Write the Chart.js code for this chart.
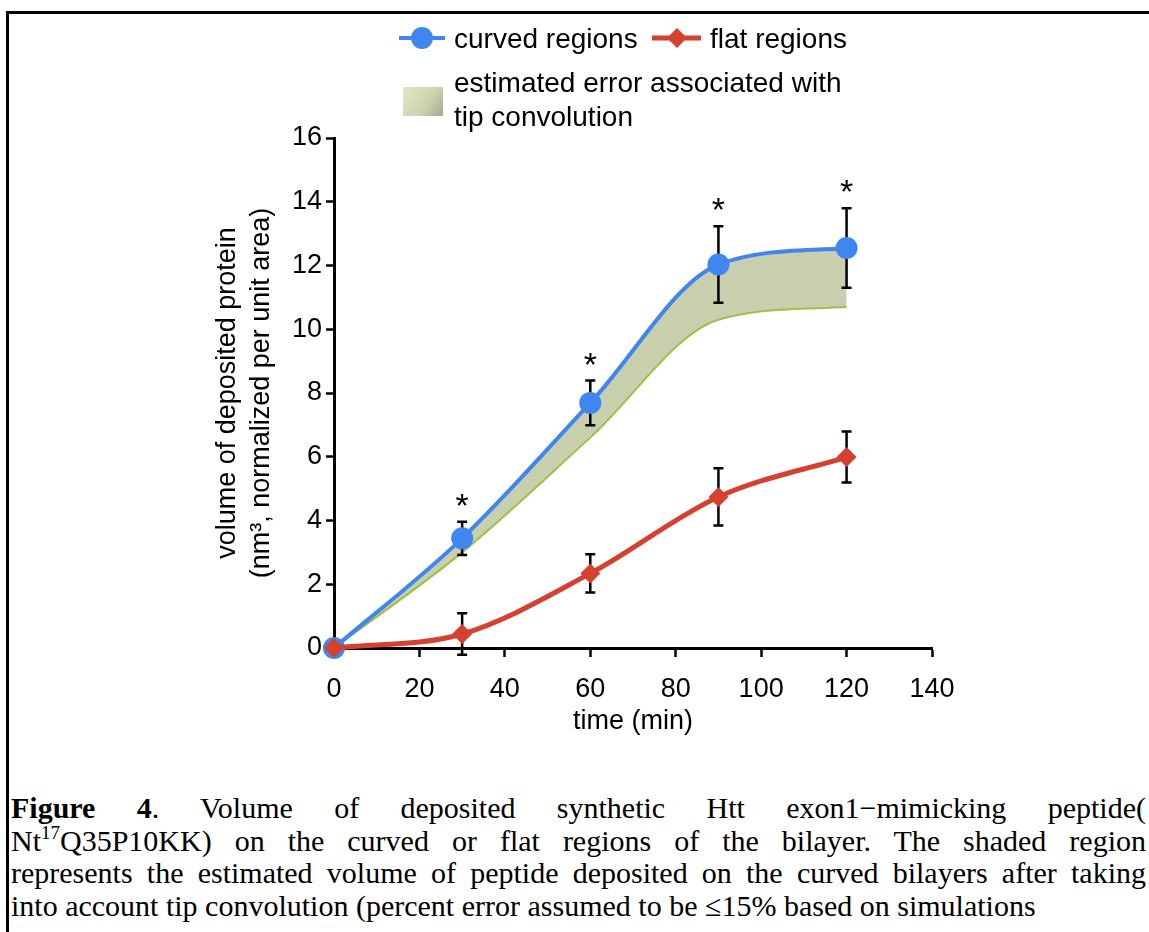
<!DOCTYPE html>
<html>
<head>
<meta charset="utf-8">
<script src="https://cdn.jsdelivr.net/npm/chart.js@4.4.1/dist/chart.umd.min.js"></script>
<style>
  html, body { margin:0; padding:0; background:#fff; }
  body { width:1149px; height:932px; position:relative; overflow:hidden; }
  #frame { position:absolute; left:6px; top:11px; right:-10px; bottom:-10px; border-top:3px solid #000; border-left:3px solid #000; }
  #wrap { position:absolute; left:0; top:0; width:1149px; height:760px; }
  #caption { position:absolute; left:11px; top:792px; width:1135px; font-family:'Liberation Serif','Times New Roman',serif; font-size:30px; line-height:32.5px; color:#000; }
  #caption div { white-space:nowrap; text-align:justify; text-align-last:justify; }
  #caption div.last { text-align-last:left; }
  #caption sup { font-size:19px; line-height:0; vertical-align:12px; }
</style>
</head>
<body>
<div id="frame"></div>
<div id="wrap"><canvas id="chart" width="1149" height="760"></canvas></div>
<div id="caption">
  <div><b>Figure 4</b>. Volume of deposited synthetic Htt exon1&minus;mimicking peptide(</div>
  <div>Nt<sup>17</sup>Q35P10KK) on the curved or flat regions of the bilayer. The shaded region</div>
  <div>represents the estimated volume of peptide deposited on the curved bilayers after taking</div>
  <div class="last">into account tip convolution (percent error assumed to be &le;15% based on simulations</div>
</div>
<script>
// data
const times = [0, 30, 60, 90, 120];
const curved = [0, 3.44, 7.69, 12.03, 12.55];
const curvedErr = [0, 0.52, 0.70, 1.20, 1.25];
const curvedStars = [false, true, true, true, true];
const flat = [0, 0.44, 2.34, 4.74, 5.99];
const flatErr = [0, 0.65, 0.60, 0.90, 0.80];
const bandLow = [0, 3.0, 6.6, 10.3, 10.7];
const xTicks = [0, 20, 40, 60, 80, 100, 120, 140];
const yTicks = [0, 2, 4, 6, 8, 10, 12, 14, 16];

const BLUE = '#3f86ef';
const RED = '#d5402f';
const FONT = '"Liberation Sans", Arial, sans-serif';

function pts(vals) {
    return times.map((t, i) => ({x: t, y: vals[i]}));
}

// error bars + stars, drawn just under each series
const errorBars = {
    id: 'errorBars',
    beforeDatasetDraw(chart, args) {
        const ds = chart.data.datasets[args.index];
        if (!ds.errors) return;
        const xs = chart.scales.x, ys = chart.scales.y, ctx = chart.ctx;
        ctx.save();
        ctx.strokeStyle = '#000';
        ctx.fillStyle = '#000';
        ctx.lineWidth = 2.5;
        ds.data.forEach((p, i) => {
            const e = ds.errors[i];
            const px = xs.getPixelForValue(p.x);
            const top = ys.getPixelForValue(p.y + e);
            const bot = ys.getPixelForValue(p.y - e);
            if (e) {
                ctx.beginPath();
                ctx.moveTo(px, top); ctx.lineTo(px, bot);
                ctx.moveTo(px - 5, top); ctx.lineTo(px + 5, top);
                ctx.moveTo(px - 5, bot); ctx.lineTo(px + 5, bot);
                ctx.stroke();
            }
            if (ds.stars && ds.stars[i]) {
                ctx.font = '34px ' + FONT;
                ctx.textAlign = 'center';
                ctx.textBaseline = 'alphabetic';
                ctx.fillText('*', px, top - 5);
            }
        });
        ctx.restore();
    }
};

// legend at the top
const topLegend = {
    id: 'topLegend',
    afterDraw(chart) {
        const ctx = chart.ctx;
        ctx.save();
        ctx.font = '28px ' + FONT;
        ctx.textBaseline = 'middle';
        ctx.textAlign = 'left';
        ctx.fillStyle = '#000';
        //curved
        ctx.strokeStyle = BLUE; ctx.lineWidth = 4;
        ctx.beginPath(); ctx.moveTo(399, 38); ctx.lineTo(445, 38); ctx.stroke();
        ctx.fillStyle = BLUE;
        ctx.beginPath(); ctx.arc(422, 38, 11, 0, Math.PI * 2); ctx.fill();
        ctx.fillStyle = '#000';
        ctx.fillText('curved regions', 454, 40);
        //flat
        ctx.strokeStyle = RED; ctx.lineWidth = 5;
        ctx.beginPath(); ctx.moveTo(652, 38); ctx.lineTo(701, 38); ctx.stroke();
        ctx.fillStyle = RED;
        ctx.beginPath();
        ctx.moveTo(677, 28); ctx.lineTo(687, 38); ctx.lineTo(677, 48); ctx.lineTo(667, 38);
        ctx.closePath(); ctx.fill();
        ctx.fillStyle = '#000';
        ctx.fillText('flat regions', 710, 40);
        //band
        const g = ctx.createLinearGradient(403, 87, 443, 116);
        g.addColorStop(0, '#dfe7c6');
        g.addColorStop(0.6, '#cbd3ae');
        g.addColorStop(1, '#a4a795');
        ctx.fillStyle = g;
        ctx.fillRect(403, 87, 40, 29);
        ctx.fillStyle = '#000';
        ctx.fillText('estimated error associated with', 454, 84);
        ctx.fillText('tip convolution', 454, 118);
        ctx.restore();
    }
};

new Chart(document.getElementById('chart'), {
    type: 'line',
    data: {
        datasets: [{
            label: 'curved regions',
            data: pts(curved),
            errors: curvedErr,
            stars: curvedStars,
            borderColor: BLUE,
            backgroundColor: BLUE,
            borderWidth: 4,
            pointRadius: 11,
            pointStyle: 'circle',
            pointBorderWidth: 0,
            cubicInterpolationMode: 'monotone',
            clip: false,
            fill: false,
            order: 2
        }, {
            label: 'flat regions',
            data: pts(flat),
            errors: flatErr,
            borderColor: RED,
            backgroundColor: RED,
            borderWidth: 5,
            pointRadius: 10,
            pointStyle: 'rectRot',
            pointBorderWidth: 0,
            cubicInterpolationMode: 'monotone',
            clip: false,
            fill: false,
            order: 1
        }, {
            label: 'estimated error associated with tip convolution',
            data: pts(bandLow),
            borderColor: '#9fbf48',
            backgroundColor: '#c8cfad',
            borderWidth: 2,
            pointRadius: 0,
            cubicInterpolationMode: 'monotone',
            fill: 0,
            clip: false,
            order: 3
        }]
    },
    options: {
        responsive: false,
        animation: false,
        layout: {
            padding: {left: 184, right: 217, top: 138, bottom: 22}
        },
        plugins: {
            legend: {display: false},
            tooltip: {enabled: false}
        },
        scales: {
            x: {
                type: 'linear',
                min: 0, max: 140,
                afterFit: function(s) { s.height = 90; },
                afterBuildTicks: function(s) { s.ticks = xTicks.map(v => ({value: v})); },
                grid: {drawOnChartArea: false, tickLength: 9, tickWidth: 2.5, tickColor: '#000'},
                border: {display: true, color: '#000', width: 3},
                ticks: {color: '#000', font: {family: FONT, size: 27}, padding: 16, maxRotation: 0},
                title: {display: true, text: 'time (min)', color: '#000', font: {family: FONT, size: 27}, padding: {top: 0, bottom: 0}}
            },
            y: {
                min: 0, max: 16,
                afterFit: function(s) { s.width = 150; },
                afterBuildTicks: function(s) { s.ticks = yTicks.map(v => ({value: v})); },
                grid: {drawOnChartArea: false, tickLength: 8, tickWidth: 2.5, tickColor: '#000'},
                border: {display: true, color: '#000', width: 3},
                ticks: {color: '#000', font: {family: FONT, size: 27}, padding: 4},
                title: {
                    display: true,
                    text: ['volume of deposited protein', '(nm\u00b3, normalized per unit area)'],
                    color: '#000',
                    font: {family: FONT, size: 27, lineHeight: 1.26},
                    padding: {top: 27, bottom: 0}
                }
            }
        }
    },
    plugins: [errorBars, topLegend]
});
</script>
</body>
</html>
